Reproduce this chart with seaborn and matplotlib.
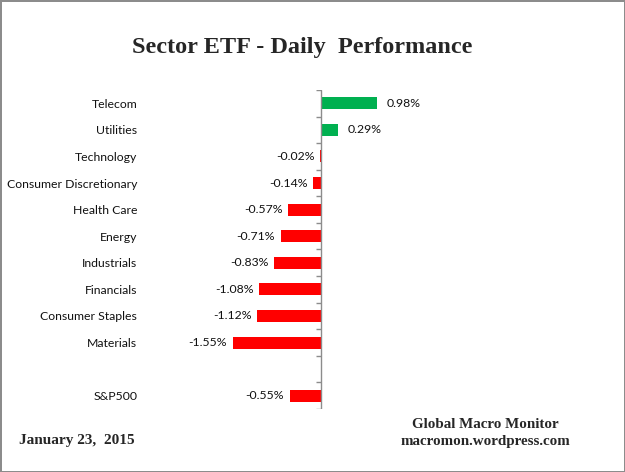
import numpy as np
import pandas as pd
import matplotlib
matplotlib.use("Agg")
import matplotlib.pyplot as plt
import seaborn as sns

# data
sectors = ["Telecom", "Utilities", "Technology", "Consumer Discretionary",
           "Health Care", "Energy", "Industrials", "Financials",
           "Consumer Staples", "Materials", " ", "S&P500"]
changes = [0.98, 0.29, -0.02, -0.14, -0.57, -0.71, -0.83, -1.08, -1.12, -1.55, np.nan, -0.55]
labels = ["0.98%", "0.29%", "-0.02%", "-0.14%", "-0.57%", "-0.71%", "-0.83%",
          "-1.08%", "-1.12%", "-1.55%", "", "-0.55%"]

df = pd.DataFrame({"sector": sectors, "change": changes})
df["sign"] = np.where(df["change"] >= 0, "up", "down")
plot_df = df.dropna()

sns.set_style("white")
plt.rcParams["font.family"] = ["Lato", "DejaVu Sans"]

fig = plt.figure(figsize=(6.25, 4.72), dpi=100, edgecolor="#8c8c8c", linewidth=2)
ax = fig.add_axes([0.224, 0.1335, 0.736, 0.6758])

sns.barplot(data=plot_df, x="change", y="sector", hue="sign", order=sectors,
            palette={"up": "#00B050", "down": "#FF0000"}, orient="h",
            width=0.45, dodge=False, legend=False, saturation=1,
            linewidth=0, ax=ax)

ax.set_xlim(-3.175, 4.895)
ax.set_ylim(11.5, -0.5)
for s in ax.spines.values():
    s.set_visible(False)
ax.set_xticks([])
ax.tick_params(axis="y", length=0, pad=2, labelsize=8.8, labelcolor="#111111")
ax.set_xlabel("")
ax.set_ylabel("")

# axis line at zero with tick marks between categories
ax.axvline(0, color="#8c8c8c", linewidth=1)
ax.hlines(np.arange(-0.5, 12, 1), -0.09, 0, color="#8c8c8c", linewidth=1)

for i, (v, lab) in enumerate(zip(changes, labels)):
    if np.isnan(v):
        continue
    if v >= 0:
        ax.annotate(lab, (v, i), xytext=(7, 0), textcoords="offset points",
                    ha="left", va="center", fontsize=8.8, color="#111111")
    else:
        ax.annotate(lab, (v, i), xytext=(-4, 0), textcoords="offset points",
                    ha="right", va="center", fontsize=8.8, color="#111111")

fig.text(0.483, 0.9, "Sector ETF - Daily  Performance", ha="center", va="center",
         fontsize=17.5, fontweight="bold", family="Liberation Serif")
fig.text(0.03, 0.067, "January 23,  2015", ha="left", va="center",
         fontsize=11, fontweight="bold", family="Liberation Serif")
fig.text(0.776, 0.1, "Global Macro Monitor", ha="center", va="center",
         fontsize=10.8, fontweight="bold", family="Liberation Serif")
fig.text(0.776, 0.064, "macromon.wordpress.com", ha="center", va="center",
         fontsize=10.8, fontweight="bold", family="Liberation Serif")

fig.savefig("out.png", dpi=100, edgecolor=fig.get_edgecolor())
